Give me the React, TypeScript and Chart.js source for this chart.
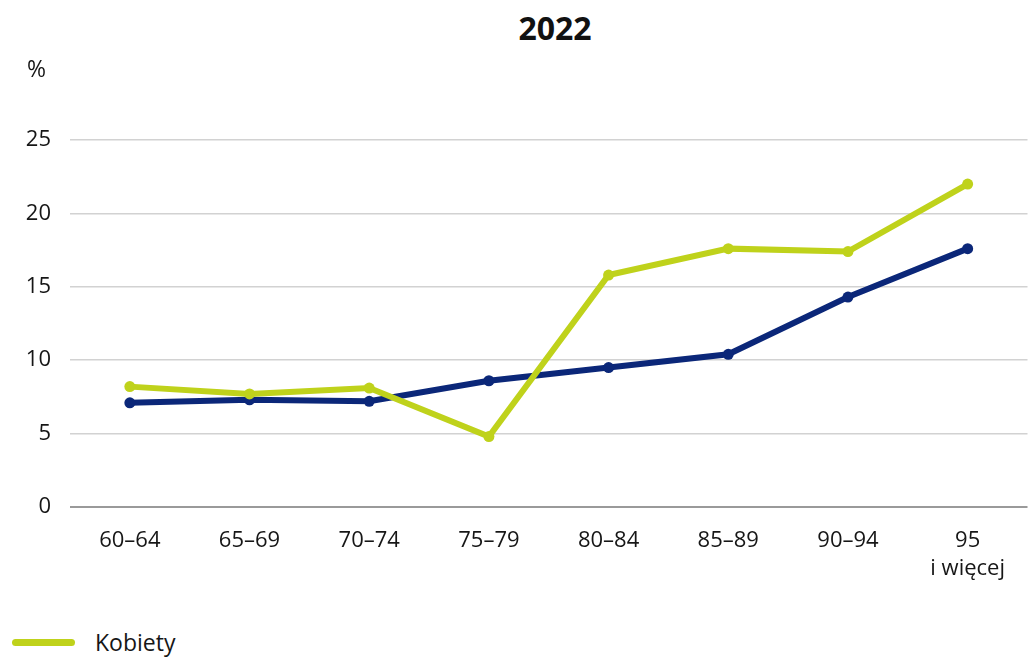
import React, { useEffect, useRef } from "react";
import { Chart, registerables } from "chart.js";

Chart.register(...registerables);

const categories: (string | string[])[] = ["60–64", "65–69", "70–74", "75–79", "80–84", "85–89", "90–94", ["95", "i więcej"]];
const kobiety = [8.2, 7.7, 8.1, 4.8, 15.8, 17.6, 17.4, 22.0];
const mezczyzni = [7.1, 7.3, 7.2, 8.6, 9.5, 10.4, 14.3, 17.6];
const yTicks = [0, 5, 10, 15, 20, 25];
const title = "2022";
const unit = "%";
const seriesNames = ["Kobiety", "Mężczyźni"];

const GREEN = "#bfd21b";
const NAVY = "#0b2779";
const FONT = "'Open Sans', 'Noto Sans', sans-serif";
const TEXT = "#161616";

const unitPlugin = {
  id: "unitLabel",
  afterDraw(chart: any) {
    const ctx = chart.ctx;
    ctx.save();
    ctx.font = `23px ${FONT}`;
    ctx.fillStyle = TEXT;
    ctx.textAlign = "left";
    ctx.textBaseline = "middle";
    ctx.fillText(unit, 27, 70);
    ctx.restore();
  },
};

export default function App() {
  const ref = useRef<HTMLCanvasElement | null>(null);
  useEffect(() => {
    document.body.style.margin = "0";
    if (!ref.current) return;
    const chart = new Chart(ref.current, {
      type: "line",
      data: {
        labels: categories as any,
        datasets: [
          {
            label: seriesNames[0],
            data: kobiety,
            borderColor: GREEN,
            backgroundColor: GREEN,
            borderWidth: 6,
            pointRadius: 5.5,
            pointBorderWidth: 0,
            pointBackgroundColor: GREEN,
          },
          {
            label: seriesNames[1],
            data: mezczyzni,
            borderColor: NAVY,
            backgroundColor: NAVY,
            borderWidth: 6,
            pointRadius: 5.5,
            pointBorderWidth: 0,
            pointBackgroundColor: NAVY,
          },
        ],
      },
      options: {
        animation: false,
        responsive: false,
        maintainAspectRatio: false,
        layout: { padding: { top: 140, left: 0, right: 0, bottom: 0 } },
        plugins: {
          legend: { display: false },
          tooltip: { enabled: false },
          title: { display: false },
        },
        scales: {
          x: {
            offset: true,
            grid: { display: false, drawTicks: false },
            border: { display: false },
            ticks: {
              color: TEXT,
              font: { family: FONT, size: 22, lineHeight: 1.3 },
              padding: 19,
              maxRotation: 0,
              autoSkip: false,
            },
            afterFit: (scale: any) => {
              scale.height = 103;
            },
          },
          y: {
            min: 0,
            max: 25,
            afterBuildTicks: (scale: any) => {
              scale.ticks = yTicks.map((v) => ({ value: v }));
            },
            grid: {
              drawTicks: false,
              color: (c: any) => (c.tick && c.tick.value === 0 ? "#9a9a9a" : "#d2d2d2"),
              lineWidth: (c: any) => (c.tick && c.tick.value === 0 ? 2 : 1.5),
            },
            border: { display: false },
            ticks: {
              color: TEXT,
              font: { family: FONT, size: 22 },
              padding: 19,
            },
            afterFit: (scale: any) => {
              scale.width = 70;
            },
          },
        },
      },
      plugins: [unitPlugin],
    });
    return () => chart.destroy();
  }, []);

  return (
    <div style={{ position: "relative", width: 1033, height: 660, overflow: "hidden", background: "#fff", fontFamily: FONT }}>
      <div
        style={{
          position: "absolute",
          top: 6,
          left: 0,
          width: 1110,
          textAlign: "center",
          fontSize: 32,
          fontWeight: 700,
          color: "#111",
          lineHeight: "44px",
        }}
      >
        {title}
      </div>
      <canvas ref={ref} width={1033} height={610} style={{ position: "absolute", left: 0, top: 0 }} />
      <div style={{ position: "absolute", left: 12, top: 626 }}>
        {[
          [seriesNames[0], GREEN],
          [seriesNames[1], NAVY],
        ].map(([name, color]) => (
          <div key={name} style={{ display: "flex", alignItems: "center", height: 32, marginBottom: 14 }}>
            <div style={{ width: 63, height: 7, borderRadius: 4, background: color, marginRight: 20 }} />
            <span style={{ fontSize: 23, color: TEXT }}>{name}</span>
          </div>
        ))}
      </div>
    </div>
  );
}
